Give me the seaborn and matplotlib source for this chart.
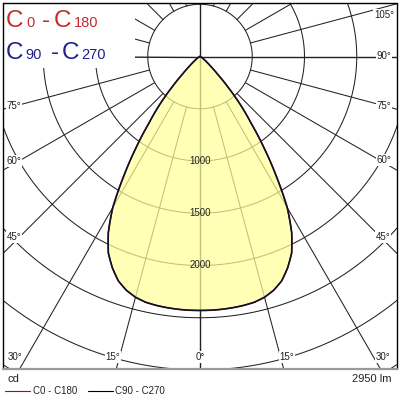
import numpy as np
import matplotlib
matplotlib.use('Agg')
import matplotlib.pyplot as plt
from matplotlib.patches import Rectangle
from matplotlib.lines import Line2D
from matplotlib.transforms import Bbox, TransformedBbox
import seaborn as sns

# gamma angle (deg) and luminous intensity (cd)
gamma = [0, 2.5, 5, 7.5, 10, 12.5, 15, 17.5, 20, 22.5, 25, 27.5, 30, 32.5, 35, 37.5, 40,
         42.5, 45, 47.5, 50, 52.5, 55, 57.5, 60, 65, 70, 75, 80, 85, 90,
         95, 100, 105, 110, 115, 120, 125, 130, 135, 140, 145, 150, 155, 160, 165, 170, 175, 180]
cd_c0_c180 = [2430, 2430, 2428, 2424, 2418, 2408, 2385, 2345, 2285, 2190, 2075, 1900, 1670, 1360,
              1070, 800, 600, 390, 230, 140, 90, 60, 40, 28, 20, 12, 8, 6, 4, 2, 0,
              0, 0, 0, 0, 0, 0, 0, 0, 0, 0, 0, 0, 0, 0, 0, 0, 0, 0]
cd_c90_c270 = [2430, 2430, 2428, 2424, 2418, 2408, 2385, 2345, 2285, 2190, 2075, 1900, 1670, 1360,
               1070, 800, 600, 390, 230, 140, 90, 60, 40, 28, 20, 12, 8, 6, 4, 2, 0,
               0, 0, 0, 0, 0, 0, 0, 0, 0, 0, 0, 0, 0, 0, 0, 0, 0, 0]

rings = [500, 1000, 1500, 2000, 2500, 3000, 3500]
ring_labels = [1000, 1500, 2000]
spokes = list(range(0, 360, 15))
flux = '2950 lm'
unit = 'cd'

# angle labels: (text, x px, y px)
angle_labels = [('105°', 384, 15), ('90°', 384, 56), ('75°', 384, 106), ('60°', 384, 160),
                ('45°', 383, 237), ('30°', 383, 357), ('15°', 287, 357), ('0°', 200, 357),
                ('15°', 113, 357), ('30°', 15, 357), ('45°', 14, 237), ('60°', 14, 161),
                ('75°', 14, 106)]

sns.set_style('white')
plt.rcParams['font.family'] = ['Liberation Sans', 'DejaVu Sans']

W = H = 400
fig = plt.figure(figsize=(4, 4), dpi=100)


def fx(px):
    return px / W


def fy(py):
    return 1 - py / H


# polar axes: centre at (200, 56.5) px, 3000 cd = 313.5 px
cx, cy = 200, 56.5
rmax = 4000
R = rmax * 313.5 / 3000
ax = fig.add_axes([(cx - R) / W, (H - cy - R) / H, 2 * R / W, 2 * R / H], projection='polar')
ax.set_theta_zero_location('S')
ax.spines['polar'].set_visible(False)

full = np.linspace(0, 2 * np.pi, 721)
for r in rings:
    ax.plot(full, np.full_like(full, r), color='#222222', lw=0.75, zorder=1)
for a in spokes:
    r0 = 0 if a % 90 == 0 else 500
    ax.plot([np.deg2rad(a)] * 2, [r0, rmax], color='#222222',
            lw=1.0 if a % 90 == 0 else 0.75, zorder=1)

g = np.array(gamma)
theta1 = np.deg2rad(np.concatenate([-g[::-1], g[1:]]))
r1 = np.concatenate([np.array(cd_c0_c180)[::-1], np.array(cd_c0_c180)[1:]])
theta2 = np.deg2rad(np.concatenate([-g[::-1], g[1:]]))
r2 = np.concatenate([np.array(cd_c90_c270)[::-1], np.array(cd_c90_c270)[1:]])

fill = ax.fill_between(theta1, 0, r1, color='#ffff99', alpha=0.72, lw=0, zorder=2)
for p in fill.get_paths():
    p._interpolation_steps = 12
sns.lineplot(x=theta1, y=r1, ax=ax, sort=False, estimator=None, color='#a01010', lw=1.0, zorder=3)
sns.lineplot(x=theta2, y=r2, ax=ax, sort=False, estimator=None, color='#101028', lw=1.2, zorder=4)
for ln in ax.lines[-2:]:
    ln.get_path()._interpolation_steps = 12

ax.set_xlabel('')
ax.set_ylabel('')
ax.set_xticks([])
ax.set_yticks([])
ax.grid(False)
ax.set_ylim(0, rmax)

for v in ring_labels:
    ax.text(0, v, str(v), ha='center', va='center', fontsize=7, color='#222222', zorder=5)

clip = TransformedBbox(Bbox([[fx(3), fy(369)], [fx(396.5), fy(3)]]), fig.transFigure)
for art in ax.lines + ax.collections + ax.texts:
    art.set_clip_box(clip)

# white box behind the heading
fig.patches.append(Rectangle((fx(3), fy(68)), fx(135) - fx(3), fy(3) - fy(68),
                             transform=fig.transFigure, facecolor='white', edgecolor='none', zorder=2))

red, blue = '#c42a2a', '#1f1f8c'
heading = [('C', 6, 27, 17.5, red), ('0', 26, 27, 10.5, red), ('-', 42, 27, 17.5, red),
           ('C', 54, 27, 17.5, red), ('180', 74, 27, 10.5, red),
           ('C', 6, 59, 17.5, blue), ('90', 25, 59, 10.5, blue), ('-', 51, 59, 17.5, blue),
           ('C', 62, 59, 17.5, blue), ('270', 81, 59, 10.5, blue)]
for s, x, y, size, c in heading:
    fig.text(fx(x), fy(y), s, ha='left', va='baseline', fontsize=size, color=c, zorder=4)

for s, x, y in angle_labels:
    fig.text(fx(x), fy(y), s, ha='center', va='center', fontsize=7, color='#222222', zorder=4,
             bbox=dict(facecolor='white', edgecolor='none', pad=0.6))

# frame
frame = [((3, 3), (3, 369), 'black', 1.0), ((3, 3), (396.5, 3), 'black', 1.0),
         ((396.5, 3), (396.5, 369), 'black', 1.0), ((3, 369), (396.5, 369), '#9a9a9a', 1.6)]
for (x0, y0), (x1, y1), c, lw in frame:
    fig.lines.append(Line2D([fx(x0), fx(x1)], [fy(y0), fy(y1)], transform=fig.transFigure,
                            color=c, lw=lw, zorder=5))

fig.text(fx(8), fy(379), unit, ha='left', va='center', fontsize=8, color='#222222')
fig.text(fx(391), fy(379), flux, ha='right', va='center', fontsize=8, color='#222222')

fig.lines.append(Line2D([fx(5), fx(30)], [fy(391), fy(391)], transform=fig.transFigure, color='#a01010', lw=0.8))
fig.text(fx(33), fy(391), 'C0 - C180', ha='left', va='center', fontsize=7, color='#222222')
fig.lines.append(Line2D([fx(88), fx(113)], [fy(391), fy(391)], transform=fig.transFigure, color='black', lw=0.8))
fig.text(fx(115), fy(391), 'C90 - C270', ha='left', va='center', fontsize=7, color='#222222')

fig.savefig('out.png', dpi=100, facecolor='white')
